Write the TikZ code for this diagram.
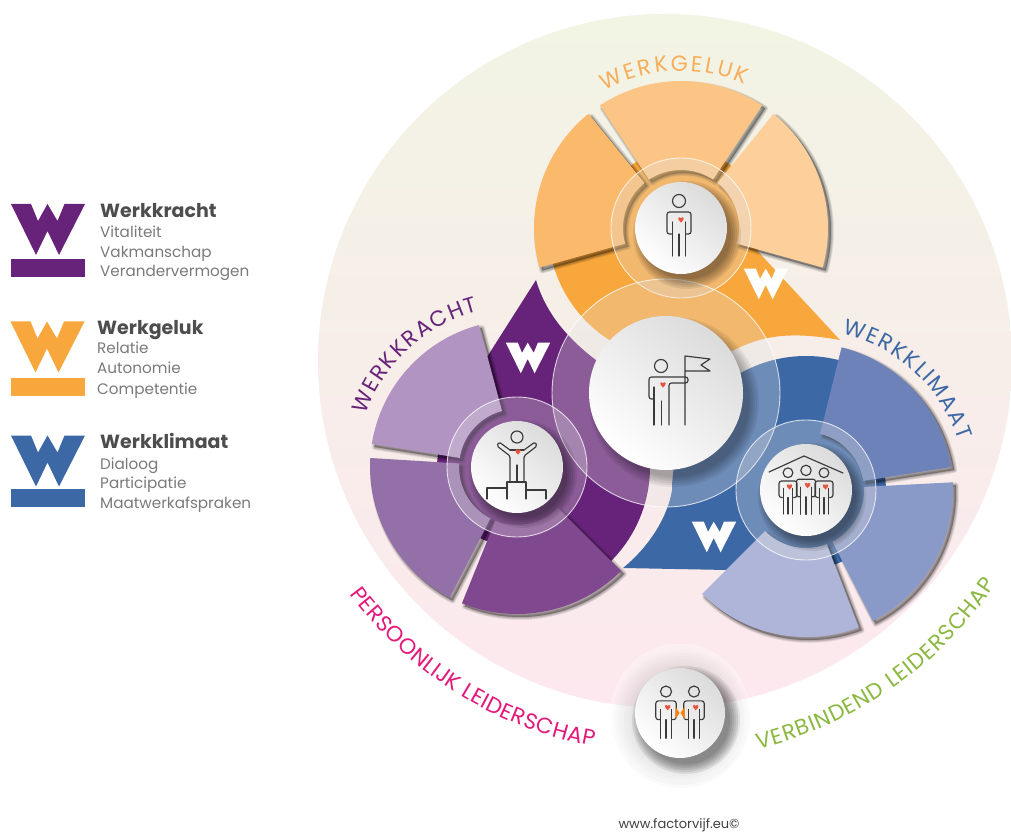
\documentclass[tikz,border=0pt]{standalone}
\usepackage{fontspec}
\setmainfont{Poppins}
\usetikzlibrary{calc}
\usetikzlibrary{decorations.text}

\definecolor{krachtbase}{HTML}{67237A}
\definecolor{krachtA}{HTML}{B294C3}
\definecolor{krachtB}{HTML}{9470A8}
\definecolor{krachtC}{HTML}{80488E}
\definecolor{gelukbase}{HTML}{F8A73C}
\definecolor{gelukA}{HTML}{FBB96C}
\definecolor{gelukB}{HTML}{FCC586}
\definecolor{gelukC}{HTML}{FDCF9B}
\definecolor{geluktext}{HTML}{F6AE5A}
\definecolor{klimaatbase}{HTML}{3D68A6}
\definecolor{klimaatA}{HTML}{6C82B8}
\definecolor{klimaatB}{HTML}{8A9AC8}
\definecolor{klimaatC}{HTML}{AEB5D8}
\definecolor{headgray}{HTML}{4D4D4D}
\definecolor{subgray}{HTML}{7A7A7A}
\definecolor{iconline}{HTML}{3A3A3A}
\definecolor{heartred}{HTML}{E8553F}
\definecolor{leadpink}{HTML}{E5197B}
\definecolor{leadgreen}{HTML}{8BB840}
\definecolor{rimtop}{HTML}{F2F4E4}
\definecolor{rimmid}{HTML}{F7F1E8}
\definecolor{rimlow}{HTML}{FCE8EE}
\definecolor{glasstint}{HTML}{E2E2E2}

\tikzset{
  legendhead/.style={anchor=base west, inner sep=0, text=headgray, font=\bfseries\fontsize{19}{19}\selectfont},
  legendsub/.style={anchor=base west, inner sep=0, text=subgray, font=\fontsize{15.2}{15.2}\selectfont},
  glass/.style={fill=glasstint, fill opacity=.3, draw=white, draw opacity=.75, line width=.9pt},
  disc/.style={top color=black!14, bottom color=white, shading angle=-40},
  icon/.style={draw=iconline, line width=1.15pt, line cap=round, line join=round},
  wmark/.pic={
    \fill (-37,25.5) -- (-17,25.5) -- (-10,8.5) -- (-.5,25.5) -- (9.5,8.5) -- (16.5,25.5) -- (37,25.5)
      -- (11,-25.5) -- (-.5,-1.5) -- (-12,-25.5) -- cycle;
  },
  heart/.pic={
    \fill[heartred] (0,-2.6) .. controls (-4.5,1) and (-2.6,4.2) .. (0,2) .. controls (2.6,4.2) and (4.5,1) .. (0,-2.6);
  },
  person/.pic={
    \draw[icon] (0,27) circle[radius=6.5];
    \draw[icon, rounded corners=2.5pt] (-7.5,-6) -- (-12,-6) -- (-12,16) -- (12,16) -- (12,-6) -- (7.5,-6);
    \draw[icon] (-6.5,6) -- (-6.5,-28) (6.5,6) -- (6.5,-28);
    \draw[icon] (0,-28) -- (0,-6);
    \pic at (2,8) {heart};
  },
}

% one of the three leaves round a small disc, with its shadow
\newcommand{\bladepath}[3]{
  ($(#1)+(#2:58)$) -- ($(#1)+(#2:147)$) arc[start angle=#2, end angle=#3, radius=147]
    -- ($(#1)+(#3:58)$) arc[start angle=#3, end angle=#2, radius=58] -- cycle
}
\newcommand{\blade}[4]{
  \begin{scope}[transform canvas={shift={(3pt,-3pt)}}]
    \foreach \wide in {6,5,4,3,2,1} {
      \path[fill=black, draw=black, opacity=.06, line width=\wide pt, line join=round] \bladepath{#1}{#2}{#3};
    }
  \end{scope}
  \fill[#4] \bladepath{#1}{#2}{#3};
}
% soft shadow under a disc
\newcommand{\castshadow}[5]{
  \foreach \grow in {0,2,...,10} {
    \fill[black, opacity=#5] ($(#1)+(#3,#4)$) circle [radius=#2+\grow];
  }
}
% text on an arc
\newcommand{\arctext}[7]{
  \path[decorate, decoration={text along path, text align=fit to path, text color=#7,
    text={|\fontsize{#6}{#6}\selectfont|#5}}]
    ($(#1)+(#2:#4)$) arc[start angle=#2, end angle=#3, radius=#4];
}

\begin{document}
\begin{tikzpicture}[x=1pt, y=1pt]
  \useasboundingbox (0,0) rectangle (1011,831);
  \fill[white] (0,0) rectangle (1011,831);

  \coordinate (rim) at (665,470);
  \coordinate (lead) at (666,438);
  \coordinate (geluk) at (681,603);
  \coordinate (kracht) at (517,364);
  \coordinate (klimaat) at (806,341);
  \coordinate (duo) at (680,118);

  %---------------- large circle ----------------
  \shade[top color=rimtop, middle color=rimmid, bottom color=rimlow]
    (rim) circle [radius=347];

  %---------------- bases ----------------
  \fill[gelukbase] (840,491) .. controls (800,498) and (770,498) .. ($(geluk)+(-64:133)$)
    arc[start angle=-64, end angle=-165, radius=133] -- (geluk) -- (752,586) -- cycle;
  \fill[gelukbase] (geluk) circle [radius=80];

  \fill[krachtbase] (536,551) .. controls (545,520) and (565,495) .. ($(kracht)+(55:133)$)
    arc[start angle=55, end angle=-46, radius=133] -- (kracht) -- (487,474) -- cycle;
  \fill[krachtbase] (kracht) circle [radius=80];

  \fill[klimaatbase] (623,263) .. controls (650,285) and (668,315) .. ($(klimaat)+(180:134)$)
    arc[start angle=180, end angle=75, radius=134] -- (klimaat) -- (727,261) -- cycle;
  \fill[klimaatbase] (klimaat) circle [radius=80];

  %---------------- leaves ----------------
  \blade{geluk}{129}{195.6}{gelukA}
  \blade{geluk}{56.5}{123.5}{gelukB}
  \blade{geluk}{-15.6}{51}{gelukC}

  \blade{kracht}{105}{171}{krachtA}
  \blade{kracht}{176.5}{242.7}{krachtB}
  \blade{kracht}{248}{315}{krachtC}

  \blade{klimaat}{9}{76}{klimaatA}
  \blade{klimaat}{-63}{3}{klimaatB}
  \blade{klimaat}{-135}{-69}{klimaatC}

  \pic[white, scale=.6] at (766,547) {wmark};
  \pic[white, scale=.6] at (528,473) {wmark};
  \pic[white, scale=.6] at (714,294) {wmark};

  %---------------- glass and discs ----------------
  \path[glass] (geluk) circle [radius=70];
  \path[glass] (lead) circle [radius=114];
  \path[glass] (kracht) circle [radius=70];
  \path[glass] (klimaat) circle [radius=70];

  \castshadow{lead}{75}{8}{-9}{.06}
  \shade[disc] (lead) circle [radius=77];
  \castshadow{geluk}{44}{6}{-7}{.08}
  \shade[disc] (geluk) circle [radius=46];
  \castshadow{kracht}{44}{6}{-7}{.08}
  \shade[disc] (kracht) circle [radius=46];
  \castshadow{klimaat}{44}{6}{-7}{.08}
  \shade[disc] (klimaat) circle [radius=46];

  \foreach \grow in {69,66,...,48} {
    \fill[black, opacity=.018] ($(duo)+(1,-6)$) circle [radius=\grow];
  }
  \path[fill=white, fill opacity=.3, draw=white, draw opacity=.4] (duo) circle [radius=69];
  \castshadow{duo}{44}{6}{-7}{.08}
  \shade[disc] (duo) circle [radius=45];

  %---------------- icons ----------------
  \pic at ($(geluk)+(-2,0)$) {person};

  % flag bearer
  \begin{scope}[shift={(lead)}]
    \draw[icon] (-5,27) circle [radius=6.5];
    \draw[icon, rounded corners=2.5pt] (-12,-6) -- (-17,-6) -- (-17,16) -- (22,16) -- (22,10) -- (3,10) -- (3,-32);
    \draw[icon] (-12,6) -- (-12,-32);
    \draw[icon] (-4.5,-32) -- (-4.5,-8);
    \draw[icon] (19,-32) -- (19,37) -- (44,34) -- (35,28) -- (44,22) -- (19,22);
    \pic at (-3,8) {heart};
  \end{scope}

  % person on podium
  \begin{scope}[shift={(kracht)}]
    \draw[icon] (0,30) circle [radius=6];
    \draw[icon, rounded corners=1.5pt] (-7,17) -- (-18,25) -- (-20,21) -- (-7,11) -- (-7,-15);
    \draw[icon, rounded corners=1.5pt] (7,17) -- (18,25) -- (20,21) -- (7,11) -- (7,-15);
    \draw[icon] (-7,17) -- (7,17);
    \draw[icon] (0,-15) -- (0,2);
    \draw[icon] (-30,-32) -- (-30,-21) -- (-10,-21) (-10,-32) -- (-10,-15) -- (9,-15) -- (9,-32) (9,-23) -- (29,-23) -- (29,-32);
    \pic at (1,15) {heart};
  \end{scope}

  % three persons under a roof
  \begin{scope}[shift={(klimaat)}]
    \draw[icon] (-37,18) -- (-2,34) -- (37,17);
    \pic[scale=.75] at (-18,-3) {person};
    \pic[scale=.75] at (18,-3) {person};
    \pic[scale=.8] at (0,-2) {person};
  \end{scope}

  % two persons
  \pic[scale=.85] at ($(duo)+(-14,-1.5)$) {person};
  \pic[scale=.85] at ($(duo)+(14,-1.5)$) {person};
  \fill[orange] ($(duo)+(-4.5,6)$) -- ($(duo)+(-.5,0)$) -- ($(duo)+(-4.5,-6)$) -- cycle;
  \fill[orange] ($(duo)+(4.5,6)$) -- ($(duo)+(.5,0)$) -- ($(duo)+(4.5,-6)$) -- cycle;

  %---------------- labels on arcs ----------------
  \arctext{geluk}{119}{66}{157}{WERKGELUK}{22}{geluktext}
  \arctext{kracht}{161}{104}{160}{WERKKRACHT}{22}{krachtbase}
  \arctext{klimaat}{77}{18}{160}{WERKKLIMAAT}{22}{klimaatbase}
  \arctext{rim}{216.5}{259.5}{392}{PERSOONLIJK LEIDERSCHAP}{22}{leadpink}
  \arctext{rim}{-76.5}{-34}{399}{VERBINDEND LEIDERSCHAP}{22}{leadgreen}

  %---------------- legend ----------------
  \pic[krachtbase] at (48,601.5) {wmark};
  \fill[krachtbase] (11,554) rectangle (85,572);
  \node[legendhead] (krachthead) at (100,613) {Werkkracht};
  \node[legendsub] (krachtone) at (100,593) {Vitaliteit};
  \node[legendsub] (krachttwo) at (100,573) {Vakmanschap};
  \node[legendsub] (krachtthree) at (100,554) {Verandervermogen};

  \pic[gelukbase] at (47.5,484) {wmark};
  \fill[gelukbase] (11,435) rectangle (85,453);
  \node[legendhead] (gelukhead) at (97,496) {Werkgeluk};
  \node[legendsub] (gelukone) at (97,477) {Relatie};
  \node[legendsub] (geluktwo) at (97,457) {Autonomie};
  \node[legendsub] (gelukthree) at (97,437) {Competentie};

  \pic[klimaatbase] at (48,370) {wmark};
  \fill[klimaatbase] (11,324) rectangle (85,342);
  \node[legendhead] (klimaathead) at (100,383) {Werkklimaat};
  \node[legendsub] (klimaatone) at (100,362) {Dialoog};
  \node[legendsub] (klimaattwo) at (100,343) {Participatie};
  \node[legendsub] (klimaatthree) at (100,323) {Maatwerkafspraken};

  \node[inner sep=0, text=black!75, font=\fontsize{13}{13}\selectfont] (site) at (679,6) {www.factorvijf.eu©};
\end{tikzpicture}
\end{document}
